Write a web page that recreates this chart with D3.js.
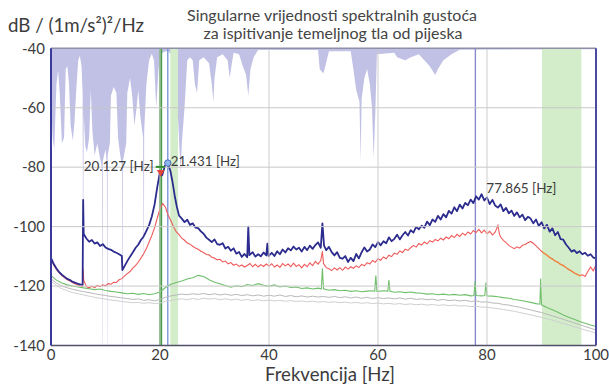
<!DOCTYPE html>
<html>
<head>
<meta charset="utf-8">
<script src="https://cdn.jsdelivr.net/npm/d3@7/dist/d3.min.js"></script>
<style>
  html, body { margin: 0; padding: 0; background: #fff; }
  svg { display: block; font-family: Lato, "Open Sans", sans-serif; }
</style>
</head>
<body>
<svg id="chart" width="609" height="384"></svg>
<script>
// ---- text ----
const titleLines = ["Singularne vrijednosti spektralnih gustoća", "za ispitivanje temeljnog tla od pijeska"];
const yUnit = "dB / (1m/s²)²/Hz";
const xTitle = "Frekvencija [Hz]";
const xTicks = [0, 20, 40, 60, 80, 100];
const yTicks = [-40, -60, -80, -100, -120, -140];

// ---- picked peaks [Hz, dB] ----
const peakGreen = [20.127, -79.9];
const peakRed = [20.127, -81.0];
const peakBlue = [21.431, -78.6];
const peakHigh = [77.865, -89.1];

// frequency bands (Hz)
const bandsLight = [[21.9, 23.3], [90.1, 97.3]];
const bandOrange = [90.1, 97.3];

// coherence-style indicator, filled from the top of the axis down to the value [Hz, dB]
const indicator = [[0,-58],[0.3,-70],[0.6,-74],[1.0,-52],[1.3,-47.5],[1.6,-55],[2.0,-72],[2.4,-70],[2.7,-47],[3.0,-46],[3.3,-52],[3.6,-66],[4.0,-71],[4.3,-65],[4.7,-52],[5.0,-44],[5.3,-42.5],[5.6,-46],[5.8,-55],[5.85,-91],[5.95,-91],[6.0,-62],[6.3,-73],[6.6,-75],[7.0,-70],[7.3,-54],[7.6,-68],[8.0,-76],[8.5,-72],[9.0,-77],[9.35,-80],[9.4,-140],[9.45,-140],[9.5,-78],[10.0,-74],[10.25,-79],[10.3,-140],[10.35,-140],[10.4,-76],[10.8,-72],[11.0,-56],[11.5,-53],[12.0,-55],[12.3,-70],[12.7,-76],[13.05,-80],[13.1,-140],[13.15,-140],[13.2,-78],[13.8,-72],[14.0,-55],[14.5,-50],[14.9,-56],[15.3,-66],[15.7,-60],[16.0,-54],[16.4,-63],[16.9,-70],[17.0,-110],[17.05,-110],[17.1,-68],[17.5,-52],[18.0,-44],[18.5,-41.8],[18.9,-44],[19.3,-60],[19.7,-48],[20.0,-42],[21.0,-41],[21.5,-41],[22.0,-42],[22.5,-45],[23.0,-55],[23.3,-63],[23.6,-75],[23.8,-82],[24.0,-72],[24.5,-60],[25.0,-44],[25.5,-43],[26.0,-44],[26.4,-52],[26.8,-55],[27.2,-44],[28.0,-43],[29.0,-45],[29.5,-52],[29.8,-58],[30.0,-50],[30.5,-43],[31.5,-42],[32.4,-44],[32.8,-50],[33.1,-46],[33.5,-41.5],[34.5,-42],[35.2,-46],[35.8,-49],[36.2,-56],[36.6,-47],[37.2,-43],[38,-40.6],[49,-40.6],[49.3,-47],[50.0,-48.5],[50.6,-44],[51,-41],[55,-41],[55.4,-46],[56.0,-54],[56.6,-58],[56.8,-78],[57.0,-57],[57.5,-50],[58.0,-47],[58.5,-52],[58.9,-60],[59.2,-77],[59.5,-62],[59.8,-42],[63,-41.5],[63.5,-43],[65,-44],[66,-43],[67.5,-42],[68.5,-44],[69.5,-46],[70.5,-49],[71.0,-47],[72,-44],[73.5,-42],[75,-40.5],[100,-40.3]];

// first singular value [Hz, dB]
const sv1 = [[0,-110.5],[0.5,-112.6],[1,-114.1],[1.5,-115.3],[2,-116.2],[2.5,-116.9],[3,-117.6],[3.5,-118.0],[4,-118.6],[4.5,-118.9],[5,-119.3],[5.5,-119.5],[5.8,-119.6],[5.9,-91.0],[6.0,-102.5],[6.5,-104.0],[7,-105.1],[7.5,-104.5],[8,-105.7],[8.5,-105.3],[9,-106.5],[9.5,-105.9],[10,-107.0],[10.5,-107.5],[11,-107.8],[11.5,-108.4],[12,-108.8],[12.5,-109.3],[13,-109.9],[13.1,-114.6],[13.5,-113.3],[14,-111.6],[14.5,-110.1],[15,-108.7],[15.5,-107.2],[16,-106.1],[16.5,-104.5],[17,-103.3],[17.5,-101.4],[18,-99.5],[18.5,-96.6],[19,-92.6],[19.5,-86.7],[20,-81.5],[20.4,-82.7],[20.9,-79.6],[21.431,-78.6],[21.9,-81.2],[22.3,-85.0],[22.7,-89.6],[23.1,-93.4],[23.5,-96.3],[24,-97.3],[24.5,-98.5],[25,-97.7],[25.5,-99.4],[26,-98.9],[26.5,-100.3],[27,-100.5],[27.5,-101.6],[28,-102.4],[28.5,-103.7],[29,-104.4],[29.5,-105.2],[30,-104.3],[30.5,-105.9],[31,-106.1],[31.5,-105.6],[32,-107.4],[32.5,-106.8],[33,-108.1],[33.5,-107.3],[34,-109.1],[34.5,-108.5],[35,-110.2],[35.5,-109.2],[36,-110.3],[36.2,-100.0],[36.4,-109.6],[37,-108.6],[37.5,-110.1],[38,-109.3],[38.5,-110.0],[39,-108.7],[39.5,-109.7],[39.7,-105.7],[39.9,-109.9],[40.5,-108.8],[41,-109.9],[41.5,-108.3],[42,-109.3],[42.5,-107.7],[43,-108.7],[43.5,-107.3],[44,-108.0],[44.5,-106.7],[45,-107.7],[45.5,-107.1],[46,-108.4],[46.5,-106.8],[47,-107.9],[47.5,-106.4],[48,-107.5],[48.5,-106.2],[49,-105.3],[49.5,-107.1],[49.8,-98.9],[50.1,-106.4],[50.5,-107.9],[51,-106.8],[51.5,-108.6],[52,-109.7],[52.5,-108.6],[53,-110.5],[53.5,-110.8],[54,-109.9],[54.5,-111.9],[55,-110.5],[55.5,-111.6],[56,-109.2],[56.5,-110.7],[57,-108.6],[57.5,-107.0],[58,-108.4],[58.5,-107.7],[59,-106.0],[59.5,-106.9],[60,-105.2],[60.5,-106.3],[61,-104.9],[61.5,-105.6],[62,-103.6],[62.5,-104.9],[63,-104.1],[63.5,-102.7],[64,-104.3],[64.5,-102.9],[65,-101.8],[65.5,-103.0],[66,-101.2],[66.5,-102.0],[67,-100.1],[67.5,-100.9],[68,-99.7],[68.5,-100.4],[69,-98.3],[69.5,-99.5],[70,-97.6],[70.5,-98.4],[71,-96.4],[71.5,-97.6],[72,-95.8],[72.5,-96.9],[73,-94.7],[73.5,-95.6],[74,-93.5],[74.5,-94.8],[75,-92.6],[75.5,-93.9],[76,-92.0],[76.5,-92.8],[77,-90.9],[77.5,-92.1],[78,-89.8],[78.5,-90.9],[79,-89.1],[79.5,-91.2],[80,-90.2],[80.5,-92.4],[81,-91.0],[81.5,-92.9],[82,-93.6],[82.5,-92.5],[83,-94.8],[83.5,-93.7],[84,-95.5],[84.5,-94.6],[85,-96.4],[85.5,-95.2],[86,-96.9],[86.5,-96.0],[87,-97.8],[87.5,-96.7],[88,-97.3],[88.5,-98.9],[89,-97.6],[89.5,-99.8],[90,-98.5],[90.5,-100.6],[91,-99.4],[91.5,-101.7],[92,-100.6],[92.5,-102.9],[93,-101.8],[93.5,-104.2],[94,-104.4],[94.5,-106.0],[95,-107.1],[95.5,-108.4],[96,-107.9],[96.5,-108.9],[97,-108.3],[97.5,-109.3],[98,-108.8],[98.5,-109.8],[99,-109.3],[99.5,-110.4],[100,-110.7]];

// second singular value [Hz, dB]
const sv2 = [[0,-110.8],[0.5,-112.9],[1,-114.4],[1.5,-115.6],[2,-116.5],[2.5,-117.2],[3,-117.9],[3.5,-118.3],[4,-118.9],[4.5,-119.3],[5,-119.7],[5.5,-120.0],[5.8,-120.1],[5.9,-114.2],[6.0,-118.0],[6.5,-120.2],[7,-120.6],[7.5,-120.1],[8,-120.5],[8.5,-119.8],[9,-120.2],[9.5,-119.6],[10,-119.9],[10.5,-119.2],[11,-119.4],[11.5,-118.7],[12,-118.8],[12.5,-117.9],[13,-117.5],[13.5,-116.6],[14,-115.8],[14.5,-115.1],[15,-114.0],[15.5,-113.1],[16,-112.0],[16.5,-110.6],[17,-109.1],[17.5,-107.4],[18,-105.2],[18.5,-103.0],[19,-100.4],[19.5,-97.1],[20,-94.0],[20.5,-92.2],[21,-93.5],[21.5,-96.2],[22,-98.0],[22.5,-100.1],[23,-101.8],[23.5,-102.7],[24,-103.9],[24.5,-104.6],[25,-105.5],[25.5,-105.9],[26,-106.6],[26.5,-107.2],[27,-107.6],[27.5,-108.3],[28,-108.7],[28.5,-109.4],[29,-109.5],[29.5,-110.3],[30,-110.6],[30.5,-111.2],[31,-111.0],[31.5,-111.9],[32,-111.6],[32.5,-112.5],[33,-112.1],[33.5,-113.0],[34,-112.6],[34.5,-113.4],[35,-112.9],[35.5,-113.6],[36,-113.1],[36.5,-112.4],[37,-113.5],[37.5,-112.7],[38,-113.6],[38.5,-112.8],[39,-113.4],[39.5,-112.6],[40,-113.3],[40.5,-112.5],[41,-113.6],[41.5,-112.9],[42,-113.7],[42.5,-112.4],[43,-113.2],[43.5,-112.6],[44,-113.5],[44.5,-112.3],[45,-113.4],[45.5,-112.8],[46,-113.9],[46.5,-112.7],[47,-113.5],[47.5,-112.2],[48,-113.1],[48.5,-111.7],[49,-112.6],[49.5,-111.4],[49.8,-108.3],[50.0,-112.4],[50.5,-113.8],[51,-114.2],[51.5,-114.8],[52,-113.9],[52.5,-114.6],[53,-113.8],[53.5,-114.7],[54,-113.6],[54.5,-114.3],[55,-113.5],[55.5,-114.0],[56,-113.2],[56.5,-113.8],[57,-112.7],[57.5,-113.2],[58,-112.1],[58.5,-112.6],[59,-111.4],[59.5,-112.0],[60,-110.8],[60.5,-111.3],[61,-110.2],[61.5,-110.8],[62,-109.6],[62.5,-110.1],[63,-108.9],[63.5,-109.3],[64,-108.2],[64.5,-108.7],[65,-107.6],[65.5,-108.0],[66,-107.1],[66.5,-106.3],[67,-106.9],[67.5,-105.7],[68,-106.2],[68.5,-105.2],[69,-105.8],[69.5,-104.7],[70,-105.2],[70.5,-104.3],[71,-104.8],[71.5,-103.9],[72,-104.5],[72.5,-103.5],[73,-104.1],[73.5,-103.0],[74,-103.7],[74.5,-102.6],[75,-103.3],[75.5,-102.2],[76,-102.9],[76.5,-101.8],[77,-102.5],[77.5,-101.3],[78,-102.0],[78.5,-100.9],[79,-102.1],[79.5,-101.2],[80,-102.4],[80.5,-101.6],[81,-102.8],[81.5,-101.9],[82.0,-99.6],[82.3,-102.6],[82.5,-103.5],[83,-104.6],[83.5,-105.4],[84,-106.3],[84.5,-106.9],[85,-107.4],[85.5,-106.8],[86,-107.2],[86.5,-106.3],[87,-106.0],[87.5,-105.4],[88,-105.0],[88.5,-105.6],[89,-106.5],[89.5,-107.4],[90,-108.3],[90.5,-109.0],[91,-109.6],[91.5,-110.4],[92,-110.9],[92.5,-111.6],[93,-112.0],[93.5,-112.7],[94,-113.1],[94.5,-113.8],[95,-114.4],[95.5,-114.9],[96,-115.6],[96.5,-116.0],[97,-116.5],[97.5,-116.2],[98,-116.8],[98.5,-115.1],[99,-113.6],[99.5,-114.9],[100,-112.8]];

// third singular value [Hz, dB]
const sv3 = [[0,-116.5],[1,-118.0],[2,-119.0],[3,-119.6],[4,-120.0],[5,-120.3],[6,-120.6],[7,-120.9],[8,-121.2],[9,-121.0],[10,-121.5],[11,-121.8],[12,-122.0],[13,-122.3],[14,-122.6],[15,-122.4],[16,-122.8],[17,-122.5],[18,-122.9],[19,-122.6],[20,-122.0],[21,-120.5],[22,-119.4],[23,-118.8],[24,-118.3],[25,-117.6],[26,-117.2],[27,-116.4],[28,-116.8],[29,-117.9],[30,-118.7],[31,-119.2],[32,-119.8],[33,-120.4],[34,-119.9],[35,-120.2],[36,-119.5],[37,-119.8],[38,-119.2],[39,-119.7],[40,-120.1],[41,-119.6],[42,-120.3],[43,-120.0],[44,-120.5],[45,-120.3],[46,-120.8],[47,-120.6],[48,-121.0],[49,-120.7],[49.6,-120.9],[49.8,-114.0],[50,-120.9],[51,-121.4],[52,-121.2],[53,-121.6],[54,-121.4],[55,-121.8],[56,-121.6],[57,-121.9],[58,-121.7],[59,-121.6],[59.4,-121.8],[59.6,-116.5],[59.8,-121.8],[60,-121.8],[61,-121.6],[61.8,-121.7],[62.0,-118.0],[62.2,-121.8],[63,-122.1],[64,-121.9],[65,-122.2],[66,-122.0],[67,-122.3],[68,-122.4],[69,-122.7],[70,-122.6],[71,-122.9],[72,-122.7],[73,-123.0],[74,-122.8],[75,-123.1],[76,-122.9],[77,-123.3],[77.6,-123.2],[77.8,-118.5],[78.0,-123.2],[79,-123.3],[79.6,-123.2],[79.8,-118.8],[80.0,-123.3],[81,-123.4],[82,-123.6],[83,-123.9],[84,-124.1],[85,-124.5],[86,-124.8],[87,-125.1],[88,-125.5],[89,-125.9],[89.7,-126.1],[89.85,-117.5],[90.0,-126.3],[91,-127.2],[92,-128.0],[93,-128.8],[94,-129.7],[95,-130.5],[96,-131.2],[97,-131.9],[98,-132.5],[99,-133.1],[100,-133.6]];

// fourth and fifth singular values [Hz, dB]
const sv4 = [[0,-117.5],[1,-119.0],[2,-120.0],[3,-120.6],[4,-121.1],[5,-121.5],[6,-121.9],[7,-122.2],[8,-122.6],[9,-122.9],[10,-123.2],[11,-123.5],[12,-123.7],[13,-124.0],[14,-124.2],[15,-124.5],[16,-124.3],[17,-124.8],[18,-124.6],[19,-125.0],[20,-124.5],[21,-123.8],[22,-123.3],[23,-123.0],[24,-122.7],[25,-122.9],[26,-122.6],[27,-122.8],[28,-122.5],[29,-122.9],[30,-122.6],[31,-123.0],[32,-122.7],[33,-123.1],[34,-122.8],[35,-123.2],[36,-122.9],[37,-123.3],[38,-123.0],[39,-123.4],[40,-123.1],[41,-123.4],[42,-123.0],[43,-123.5],[44,-123.2],[45,-123.6],[46,-123.3],[47,-123.7],[48,-123.4],[49,-123.7],[50,-123.5],[51,-123.8],[52,-123.5],[53,-123.9],[54,-123.6],[55,-124.0],[56,-123.7],[57,-124.1],[58,-123.8],[59,-124.2],[60,-123.9],[61,-124.2],[62,-124.0],[63,-124.3],[64,-124.0],[65,-124.4],[66,-124.1],[67,-124.5],[68,-124.3],[69,-124.6],[70,-124.4],[71,-124.8],[72,-124.5],[73,-124.9],[74,-124.7],[75,-125.0],[76,-124.8],[77,-125.2],[78,-125.0],[79,-125.4],[80,-125.3],[81,-125.7],[82,-125.8],[83,-126.2],[84,-126.4],[85,-126.8],[86,-127.1],[87,-127.6],[88,-128.0],[89,-128.5],[90,-128.9],[91,-129.5],[92,-130.0],[93,-130.6],[94,-131.2],[95,-131.8],[96,-132.4],[97,-133.0],[98,-133.6],[99,-134.2],[100,-134.8]];
const sv5 = [[0,-118.3],[1,-119.8],[2,-120.9],[3,-121.6],[4,-122.2],[5,-122.6],[6,-123.0],[7,-123.4],[8,-123.8],[9,-124.1],[10,-124.4],[11,-124.7],[12,-124.9],[13,-125.2],[14,-125.4],[15,-125.6],[16,-125.5],[17,-125.8],[18,-125.6],[19,-125.9],[20,-125.7],[21,-125.2],[22,-124.8],[23,-124.5],[24,-124.3],[25,-124.6],[26,-124.2],[27,-124.5],[28,-124.1],[29,-124.4],[30,-124.2],[31,-124.6],[32,-124.3],[33,-124.7],[34,-124.4],[35,-124.8],[36,-124.5],[37,-124.9],[38,-124.6],[39,-125.0],[40,-124.7],[41,-125.0],[42,-124.8],[43,-125.1],[44,-124.9],[45,-125.2],[46,-125.0],[47,-125.3],[48,-125.1],[49,-125.4],[50,-125.2],[51,-125.5],[52,-125.3],[53,-125.6],[54,-125.4],[55,-125.7],[56,-125.5],[57,-125.8],[58,-125.6],[59,-125.9],[60,-125.7],[61,-126.0],[62,-125.8],[63,-126.1],[64,-125.9],[65,-126.2],[66,-126.0],[67,-126.3],[68,-126.1],[69,-126.4],[70,-126.2],[71,-126.5],[72,-126.3],[73,-126.6],[74,-126.4],[75,-126.7],[76,-126.6],[77,-126.9],[78,-126.8],[79,-127.1],[80,-127.1],[81,-127.4],[82,-127.6],[83,-127.9],[84,-128.2],[85,-128.5],[86,-128.9],[87,-129.3],[88,-129.7],[89,-130.1],[90,-130.5],[91,-131.0],[92,-131.5],[93,-132.0],[94,-132.6],[95,-133.1],[96,-133.7],[97,-134.2],[98,-134.8],[99,-135.3],[100,-135.8]];

// ---- layout ----
const W = 609, H = 384;
const m = { left: 51, right: 13, top: 48.3, bottom: 38.5 };
const svg = d3.select("#chart");
const x = d3.scaleLinear().domain([0, 100]).range([m.left, W - m.right]);
const y = d3.scaleLinear().domain([-140, -40]).range([H - m.bottom, m.top]);

const defs = svg.append("defs");
defs.append("clipPath").attr("id", "plot")
  .append("rect").attr("x", x(0)).attr("y", y(-40)).attr("width", x(100) - x(0)).attr("height", y(-140) - y(-40));
defs.append("clipPath").attr("id", "band")
  .append("rect").attr("x", x(bandOrange[0])).attr("y", y(-40)).attr("width", x(bandOrange[1]) - x(bandOrange[0])).attr("height", y(-140) - y(-40));

const plot = svg.append("g").attr("clip-path", "url(#plot)");

// indicator fill
plot.append("path").datum(indicator)
  .attr("fill", "#c1c1e6")
  .attr("d", d3.area().x(d => x(d[0])).y0(y(-40)).y1(d => y(d[1])));

// highlighted frequency bands
plot.selectAll("rect.band").data(bandsLight).join("rect")
  .attr("class", "band")
  .attr("x", d => x(d[0])).attr("width", d => x(d[1]) - x(d[0]))
  .attr("y", y(-40)).attr("height", y(-140) - y(-40))
  .attr("fill", "#d3ecca");

// grid
const grid = svg.append("g");
grid.selectAll("line.gy").data(yTicks.slice(1, -1)).join("line")
  .attr("x1", x(0)).attr("x2", x(100)).attr("y1", d => y(d)).attr("y2", d => y(d))
  .attr("stroke", "#c9c9c9").attr("stroke-width", 1);
grid.selectAll("line.gx").data(xTicks.slice(1, -1)).join("line")
  .attr("y1", y(-40)).attr("y2", y(-140)).attr("x1", d => x(d)).attr("x2", d => x(d))
  .attr("stroke", "#cdcdcd").attr("stroke-width", 1);

// marker lines for picked frequencies
plot.append("line")
  .attr("x1", x(peakGreen[0])).attr("x2", x(peakGreen[0])).attr("y1", y(-40)).attr("y2", y(-140))
  .attr("stroke", "#4aa04a").attr("stroke-width", 3);
plot.append("line")
  .attr("x1", x(peakBlue[0])).attr("x2", x(peakBlue[0])).attr("y1", y(-40)).attr("y2", y(-140))
  .attr("stroke", "#6d8fd6").attr("stroke-width", 1.3);
plot.append("line")
  .attr("x1", x(peakHigh[0])).attr("x2", x(peakHigh[0])).attr("y1", y(-40)).attr("y2", y(-140))
  .attr("stroke", "#8a8ad0").attr("stroke-width", 1.4);

// singular value curves
const line = d3.line().x(d => x(d[0])).y(d => y(d[1]));
plot.append("path").datum(sv5).attr("fill", "none").attr("stroke", "#cfcfcf").attr("stroke-width", 1).attr("d", line);
plot.append("path").datum(sv4).attr("fill", "none").attr("stroke", "#b8b8b8").attr("stroke-width", 1).attr("d", line);
plot.append("path").datum(sv3).attr("fill", "none").attr("stroke", "#6fbf6a").attr("stroke-width", 1.1).attr("d", line);
plot.append("path").datum(sv2).attr("fill", "none").attr("stroke", "#ef5b5b").attr("stroke-width", 1.1).attr("d", line);
plot.append("path").datum(sv2).attr("clip-path", "url(#band)").attr("fill", "none").attr("stroke", "#ee8c3a").attr("stroke-width", 1.2).attr("d", line);
plot.append("path").datum(sv1).attr("fill", "none").attr("stroke", "#2c2c8e").attr("stroke-width", 1.8).attr("stroke-linejoin", "round").attr("d", line);

// frame
svg.append("line").attr("x1", x(0)).attr("x2", x(100)).attr("y1", y(-40)).attr("y2", y(-40)).attr("stroke", "#8f8fa8").attr("stroke-width", 1.6);
svg.append("line").attr("x1", x(0)).attr("x2", x(100)).attr("y1", y(-140)).attr("y2", y(-140)).attr("stroke", "#505068").attr("stroke-width", 1.6);
svg.append("line").attr("x1", x(0)).attr("x2", x(0)).attr("y1", y(-40)).attr("y2", y(-140)).attr("stroke", "#3a3a9c").attr("stroke-width", 2);
svg.append("line").attr("x1", x(100)).attr("x2", x(100)).attr("y1", y(-40)).attr("y2", y(-140)).attr("stroke", "#4a4aa0").attr("stroke-width", 2);

// peak markers
svg.append("line")
  .attr("x1", x(peakGreen[0]) - 5).attr("x2", x(peakGreen[0]) + 4)
  .attr("y1", y(peakGreen[1])).attr("y2", y(peakGreen[1]))
  .attr("stroke", "#2f8f2f").attr("stroke-width", 2);
svg.append("path")
  .attr("d", d3.symbol().type(d3.symbolTriangle).size(26)())
  .attr("transform", `translate(${x(peakRed[0])},${y(peakRed[1]) + 2}) rotate(180)`)
  .attr("fill", "#e0483a");
svg.append("circle")
  .attr("cx", x(peakBlue[0])).attr("cy", y(peakBlue[1])).attr("r", 3.2)
  .attr("fill", "#8fb6ea").attr("stroke", "#4a6fc0").attr("stroke-width", 1);

// helper: scale font so a text spans a given width
function fit(sel, w) {
  const fs = parseFloat(sel.attr("font-size"));
  const len = sel.node().getComputedTextLength();
  sel.attr("font-size", fs * w / len);
}

// peak labels
const lab = svg.append("g").attr("fill", "#3c3c3c");
const l1 = lab.append("text").attr("x", x(peakGreen[0]) - 7).attr("y", y(peakGreen[1]) + 4).attr("text-anchor", "end").attr("font-size", 13).text(`${peakGreen[0].toFixed(3)} [Hz]`);
const l2 = lab.append("text").attr("x", x(peakBlue[0]) + 3).attr("y", y(peakBlue[1]) + 3).attr("font-size", 13).text(`${peakBlue[0].toFixed(3)} [Hz]`);
const l3 = lab.append("text").attr("x", x(peakHigh[0]) + 11).attr("y", y(peakHigh[1]) - 1).attr("font-size", 13).text(`${peakHigh[0].toFixed(3)} [Hz]`);
fit(l1, 70); fit(l2, 69); fit(l3, 70);

// axis tick labels
const tk = svg.append("g").attr("fill", "#3c3c3c").attr("font-size", 15);
tk.selectAll("text.yt").data(yTicks).join("text")
  .attr("x", x(0) - 6).attr("y", d => y(d)).attr("dy", "0.35em").attr("text-anchor", "end")
  .text(d => d);
tk.selectAll("text.xt").data(xTicks).join("text")
  .attr("x", d => x(d)).attr("y", y(-140) + 14).attr("text-anchor", "middle")
  .text(d => d);

const t1 = svg.append("text").attr("x", 332).attr("y", 20.5).attr("text-anchor", "middle").attr("fill", "#444").attr("font-size", 13).text(titleLines[0]);
const t2 = svg.append("text").attr("x", 333).attr("y", 38.5).attr("text-anchor", "middle").attr("fill", "#444").attr("font-size", 13).text(titleLines[1]);
fit(t1, 290); fit(t2, 259);
const yu = svg.append("text").attr("x", 8).attr("y", 32).attr("fill", "#3c3c3c").attr("font-size", 16).text(yUnit);
fit(yu, 136);
const xt = svg.append("text").attr("x", 330).attr("y", 381).attr("text-anchor", "middle").attr("fill", "#3c3c3c").attr("font-size", 16).text(xTitle);
fit(xt, 130);
</script>
</body>
</html>
